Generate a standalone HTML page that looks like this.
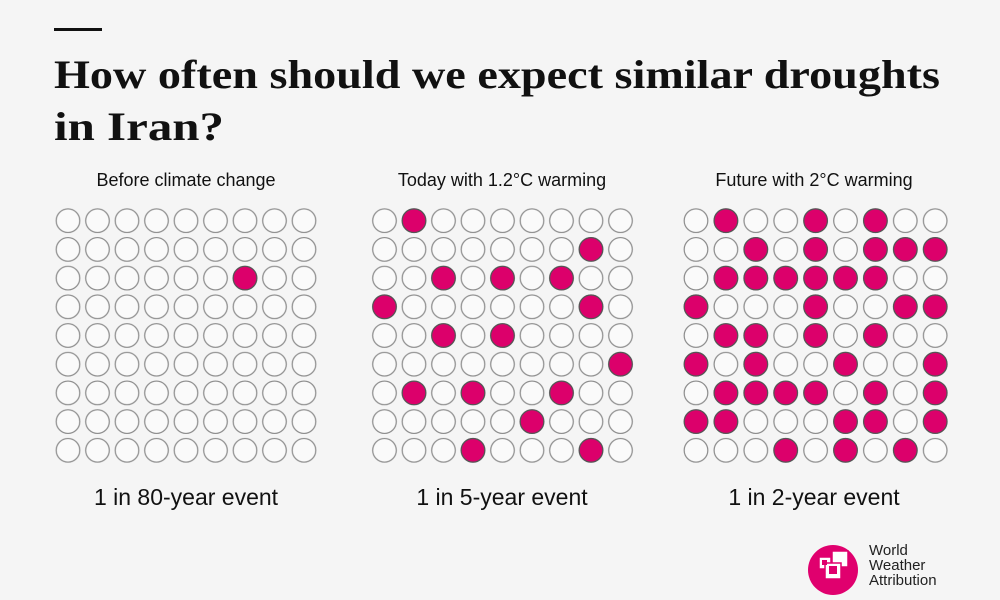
<!DOCTYPE html>
<html><head><meta charset="utf-8"><style>
html,body{margin:0;padding:0;background:#f5f5f5;}
svg{display:block}
.f{fill:#dc006b;stroke:#555;stroke-width:1.2}
</style></head><body>
<svg width="1000" height="600" viewBox="0 0 1000 600" xmlns="http://www.w3.org/2000/svg">
<defs>
<pattern id="p1" patternUnits="userSpaceOnUse" x="53.25" y="206.35" width="29.5" height="28.7">
<circle cx="14.75" cy="14.35" r="11.8" fill="#fafafa" stroke="#8a8a8a" stroke-width="1.2"/></pattern>
<pattern id="p2" patternUnits="userSpaceOnUse" x="369.75" y="206.35" width="29.5" height="28.7">
<circle cx="14.75" cy="14.35" r="11.8" fill="#fafafa" stroke="#8a8a8a" stroke-width="1.2"/></pattern>
<pattern id="p3" patternUnits="userSpaceOnUse" x="681.05" y="206.35" width="29.9" height="28.7">
<circle cx="14.95" cy="14.35" r="11.8" fill="#fafafa" stroke="#8a8a8a" stroke-width="1.2"/></pattern>
</defs>
<rect width="1000" height="600" fill="#f5f5f5"/>
<rect x="54" y="28" width="48" height="3" fill="#111"/>
<g font-family="Liberation Serif, serif" font-weight="bold" font-size="40" fill="#111">
<text x="54" y="88" textLength="886" lengthAdjust="spacingAndGlyphs">How often should we expect similar droughts</text>
<text x="54" y="140" textLength="170" lengthAdjust="spacingAndGlyphs">in Iran?</text>
</g>
<g font-family="Liberation Sans, sans-serif" font-size="18" fill="#111" text-anchor="middle">
<text x="186" y="186">Before climate change</text>
<text x="502" y="186">Today with 1.2°C warming</text>
<text x="814" y="186">Future with 2°C warming</text>
</g>
<g font-family="Liberation Sans, sans-serif" font-size="23" fill="#111" text-anchor="middle">
<text x="186" y="505">1 in 80-year event</text>
<text x="502" y="505">1 in 5-year event</text>
<text x="814" y="505">1 in 2-year event</text>
</g>
<rect x="53.25" y="206.35" width="265.5" height="258.3" fill="url(#p1)"/>
<rect x="369.75" y="206.35" width="265.5" height="258.3" fill="url(#p2)"/>
<rect x="681.05" y="206.35" width="269.1" height="258.3" fill="url(#p3)"/>
<g class="f">
<circle class="f" cx="245" cy="278.1" r="11.8"/>
<!-- panel 2 -->
<circle class="f" cx="414" cy="220.7" r="11.8"/>
<circle class="f" cx="591" cy="249.4" r="11.8"/>
<circle class="f" cx="443.5" cy="278.1" r="11.8"/>
<circle class="f" cx="502.5" cy="278.1" r="11.8"/>
<circle class="f" cx="561.5" cy="278.1" r="11.8"/>
<circle class="f" cx="384.5" cy="306.8" r="11.8"/>
<circle class="f" cx="591" cy="306.8" r="11.8"/>
<circle class="f" cx="443.5" cy="335.5" r="11.8"/>
<circle class="f" cx="502.5" cy="335.5" r="11.8"/>
<circle class="f" cx="620.5" cy="364.2" r="11.8"/>
<circle class="f" cx="414" cy="392.9" r="11.8"/>
<circle class="f" cx="473" cy="392.9" r="11.8"/>
<circle class="f" cx="561.5" cy="392.9" r="11.8"/>
<circle class="f" cx="532" cy="421.6" r="11.8"/>
<circle class="f" cx="473" cy="450.3" r="11.8"/>
<circle class="f" cx="591" cy="450.3" r="11.8"/>
<!-- panel 3 -->
<circle class="f" cx="725.9" cy="220.7" r="11.8"/>
<circle class="f" cx="815.6" cy="220.7" r="11.8"/>
<circle class="f" cx="875.4" cy="220.7" r="11.8"/>
<circle class="f" cx="755.8" cy="249.4" r="11.8"/>
<circle class="f" cx="815.6" cy="249.4" r="11.8"/>
<circle class="f" cx="875.4" cy="249.4" r="11.8"/>
<circle class="f" cx="905.3" cy="249.4" r="11.8"/>
<circle class="f" cx="935.2" cy="249.4" r="11.8"/>
<circle class="f" cx="725.9" cy="278.1" r="11.8"/>
<circle class="f" cx="755.8" cy="278.1" r="11.8"/>
<circle class="f" cx="785.7" cy="278.1" r="11.8"/>
<circle class="f" cx="815.6" cy="278.1" r="11.8"/>
<circle class="f" cx="845.5" cy="278.1" r="11.8"/>
<circle class="f" cx="875.4" cy="278.1" r="11.8"/>
<circle class="f" cx="696" cy="306.8" r="11.8"/>
<circle class="f" cx="815.6" cy="306.8" r="11.8"/>
<circle class="f" cx="905.3" cy="306.8" r="11.8"/>
<circle class="f" cx="935.2" cy="306.8" r="11.8"/>
<circle class="f" cx="725.9" cy="335.5" r="11.8"/>
<circle class="f" cx="755.8" cy="335.5" r="11.8"/>
<circle class="f" cx="815.6" cy="335.5" r="11.8"/>
<circle class="f" cx="875.4" cy="335.5" r="11.8"/>
<circle class="f" cx="696" cy="364.2" r="11.8"/>
<circle class="f" cx="755.8" cy="364.2" r="11.8"/>
<circle class="f" cx="845.5" cy="364.2" r="11.8"/>
<circle class="f" cx="935.2" cy="364.2" r="11.8"/>
<circle class="f" cx="725.9" cy="392.9" r="11.8"/>
<circle class="f" cx="755.8" cy="392.9" r="11.8"/>
<circle class="f" cx="785.7" cy="392.9" r="11.8"/>
<circle class="f" cx="815.6" cy="392.9" r="11.8"/>
<circle class="f" cx="875.4" cy="392.9" r="11.8"/>
<circle class="f" cx="935.2" cy="392.9" r="11.8"/>
<circle class="f" cx="696" cy="421.6" r="11.8"/>
<circle class="f" cx="725.9" cy="421.6" r="11.8"/>
<circle class="f" cx="845.5" cy="421.6" r="11.8"/>
<circle class="f" cx="875.4" cy="421.6" r="11.8"/>
<circle class="f" cx="935.2" cy="421.6" r="11.8"/>
<circle class="f" cx="785.7" cy="450.3" r="11.8"/>
<circle class="f" cx="845.5" cy="450.3" r="11.8"/>
<circle class="f" cx="905.3" cy="450.3" r="11.8"/>
</g>
<circle cx="833" cy="570" r="25" fill="#e0006e"/>
<g fill="#fff" stroke="#e0006e" stroke-width="1.5">
<rect x="832" y="551" width="16" height="16"/>
<rect x="819" y="557" width="12" height="12"/>
<rect x="825" y="563" width="16" height="16"/>
</g>
<rect x="822" y="560" width="5" height="5" fill="#e0006e"/>
<rect x="829" y="566" width="8" height="8" fill="#e0006e"/>
<g font-family="Liberation Sans, sans-serif" font-size="15" fill="#222">
<text x="869" y="555">World</text>
<text x="869" y="570">Weather</text>
<text x="869" y="585">Attribution</text>
</g>
</svg>
</body></html>
